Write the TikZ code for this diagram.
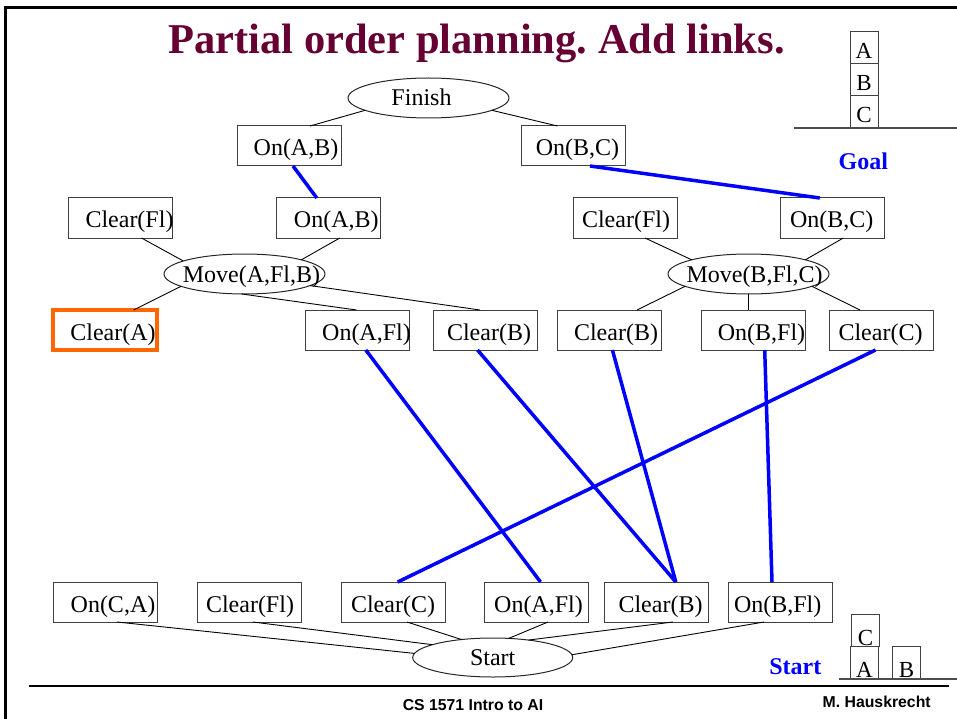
\documentclass[tikz,border=0pt]{standalone}
\usepackage{fontspec}
\setmainfont{Liberation Serif}
\newfontfamily\arialf{Liberation Sans}
\usetikzlibrary{shapes.geometric}
\definecolor{titlec}{RGB}{102,0,51}
\definecolor{linkblue}{RGB}{0,0,255}
\definecolor{orangec}{RGB}{255,102,0}
\newcommand\tx[2]{\makebox[0pt]{\hspace*{#1pt}#2}}
\frenchspacing
\begin{document}
\begin{tikzpicture}[x=1pt,y=-1pt,
 bx/.style={draw=black!75, line width=1pt, minimum width=104pt, minimum height=40pt, inner sep=0pt, outer sep=0pt, text height=22pt, text depth=2pt, font=\fontsize{24}{28}\selectfont},
 el/.style={ellipse, draw=black!85, line width=1pt, minimum width=161pt, minimum height=40pt, inner sep=0pt, outer sep=0pt, text height=20pt, text depth=4pt, font=\fontsize{24}{28}\selectfont},
 conn/.style={draw=black, line width=0.9pt},
 link/.style={draw=linkblue, line width=3.5pt},
 blk/.style={draw=black!75, line width=1pt, minimum width=28pt, minimum height=32pt, inner sep=0pt, outer sep=0pt, font=\fontsize{23}{26}\selectfont, text height=22pt, text depth=0pt},
 sblk/.style={blk, text height=30pt},
 lbl/.style={anchor=base, text=linkblue, font=\bfseries\fontsize{24}{28}\selectfont},
 foot/.style={anchor=base, font=\arialf\bfseries\fontsize{15.8}{18}\selectfont},
]
\useasboundingbox (0,0) rectangle (957,719);
% frame
\draw[line width=2.8pt, line join=miter] (957,7.5) -- (5.6,7.5) -- (5.6,719);
% title
\node[anchor=base, text=titlec, font=\bfseries\fontsize{42.5}{48}\selectfont] (title) at (476.5,53.3) {Partial order planning. Add links.};
% nodes
\node[el] (fin) at (428.5,98) {\tx{-14}{Finish}};
\node[bx] (t1) at (289,146) {\tx{14}{On(A,B)}};
\node[bx] (t2) at (573.5,146) {\tx{8}{On(B,C)}};
\node[bx] (cfl1) at (120.5,218) {\tx{18}{Clear(Fl)}};
\node[bx] (oab) at (328.8,218) {\tx{15}{On(A,B)}};
\node[bx] (cfl2) at (625,218) {\tx{2}{Clear(Fl)}};
\node[bx] (obc) at (832.8,218) {\tx{-2}{On(B,C)}};
\node[el] (mvA) at (244.5,274) {\tx{14}{Move(A,Fl,B)}};
\node[el] (mvB) at (748.5,274) {\tx{12}{Move(B,Fl,C)}};
\node[bx, draw=orangec, line width=4pt] (ca) at (104.5,330) {\tx{17}{Clear(A)}};
\node[bx] (oafl) at (357.5,330) {\tx{18}{On(A,Fl)}};
\node[bx] (cb1) at (485,330) {\tx{8}{Clear(B)}};
\node[bx] (cb2) at (609,330) {\tx{14}{Clear(B)}};
\node[bx] (obfl) at (753,330) {\tx{17}{On(B,Fl)}};
\node[bx] (cc) at (881,330) {\tx{-1}{Clear(C)}};
\node[bx] (oca) at (105,602) {\tx{16}{On(C,A)}};
\node[bx] (cfl3) at (249,602) {\tx{2}{Clear(Fl)}};
\node[bx] (cc4) at (393,602) {\tx{0}{Clear(C)}};
\node[bx] (oafl4) at (536.5,602) {\tx{4}{On(A,Fl)}};
\node[bx] (cb4) at (656.5,602) {\tx{8}{Clear(B)}};
\node[bx] (obfl4) at (780.7,602) {\tx{-6}{On(B,Fl)}};
\node[el, minimum width=160pt, minimum height=39pt] (start) at (492.7,657.5) {\tx{0}{Start}};
% thin connectors
\draw[conn] (fin.191) -- ([xshift=21pt]t1.north);
\draw[conn] (fin.349) -- ([xshift=-16pt]t2.north);
\draw[conn] ([xshift=21pt]cfl1.south) -- (mvA.168);
\draw[conn] ([xshift=11pt]oab.south) -- (mvA.14);
\draw[conn] (mvA.191) -- ([xshift=29pt]ca.north);
\draw[conn] (mvA.262) -- ([xshift=-1pt]oafl.north);
\draw[conn] (mvA.350) -- ([xshift=-5pt]cb1.north);
\draw[conn] ([xshift=20pt]cfl2.south) -- (mvB.166);
\draw[conn] ([xshift=10.5pt]obc.south) -- (mvB.14);
\draw[conn] (mvB.191) -- ([xshift=28pt]cb2.north);
\draw[conn] (mvB.south) -- ([xshift=-4.5pt]obfl.north);
\draw[conn] (mvB.349) -- ([xshift=-21pt]cc.north);
\draw[conn] ([xshift=12pt]oca.south) -- (start.177);
\draw[conn] ([xshift=4pt]cfl3.south) -- (start.168);
\draw[conn] ([xshift=14pt]cc4.south) -- (start.150);
\draw[conn] ([xshift=11.5pt]oafl4.south) -- (start.50);
\draw[conn] ([xshift=16.5pt]cb4.south) -- (start.26);
\draw[conn] ([xshift=-16.7pt]obfl4.south) -- (start.2);
% causal links
\draw[link] ([xshift=4pt]t1.south) -- ([xshift=-12pt]oab.north);
\draw[link] ([xshift=16.5pt]t2.south) -- ([xshift=-13pt]obc.north);
\draw[link] ([xshift=8.3pt]oafl.south) -- ([xshift=4pt]oafl4.north);
\draw[link] ([xshift=-7.5pt]cb1.south) -- ([xshift=19.3pt]cb4.north);
\draw[link] ([xshift=3.4pt]cb2.south) -- ([xshift=19.3pt]cb4.north);
\draw[link] ([xshift=11.7pt]obfl.south) -- ([xshift=-8.7pt]obfl4.north);
\draw[link] ([xshift=-5.5pt]cc.south) -- ([xshift=4.7pt]cc4.north);
% goal state
\node[blk] (ga) at (864,48) {A};
\node[blk] (gb) at (864,80) {B};
\node[blk] (gc) at (864,112) {C};
\draw[draw=black!70, line width=1.2pt] (794,128) -- (957,128);
\node[lbl] (goal) at (863.3,170) {Goal};
% start state
\node[sblk] (sc) at (865.5,630) {C};
\node[sblk] (sa) at (864.5,662.5) {A};
\node[sblk] (sb) at (906.5,662.5) {B};
\draw[draw=black!70, line width=1.2pt] (839,679) -- (957,679);
\node[lbl] (startlbl) at (795.3,674) {Start};
% footer
\draw[line width=1.3pt] (29,686) -- (949,686);
\node[foot] (course) at (473,710) {CS 1571 Intro to AI};
\node[foot] (author) at (876.7,707) {M. Hauskrecht};
\end{tikzpicture}
\end{document}
